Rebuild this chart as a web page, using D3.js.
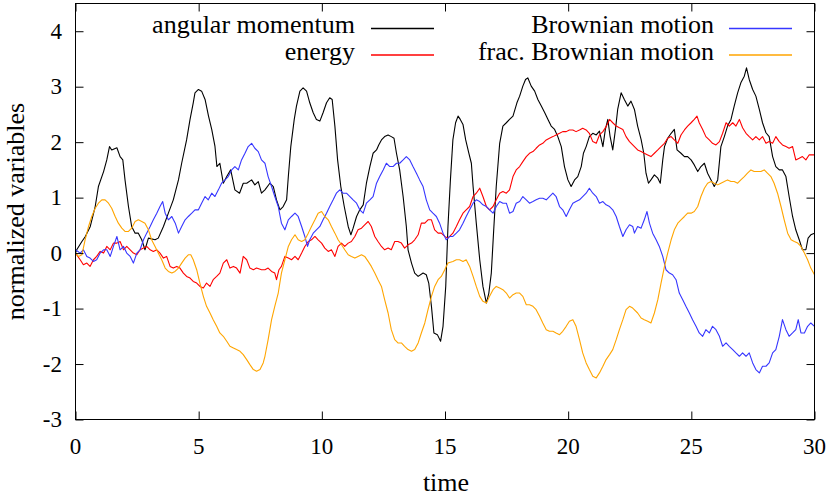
<!DOCTYPE html>
<html><head><meta charset="utf-8">
<script src="https://cdn.jsdelivr.net/npm/d3@7"></script>
<style>
html,body{margin:0;padding:0;background:#fff;}
text{font-family:Liberation Serif;}
</style></head>
<body><svg id="chart" width="830" height="497"></svg>
<script>
// ---- data ----
const xTicks = [0,5,10,15,20,25,30];
const yTicks = [-3,-2,-1,0,1,2,3,4];
const seriesNames = ["angular momentum","energy","Brownian motion","frac. Brownian motion"];
const seriesColors = ["#000000","#ff0000","#3636ff","#ffa500"];

const angularMomentum = [[0,0],[.05,.06],[.26,.21],[.4,.3],[.6,.48],[.8,.84],[.93,1.2],[1.14,1.47],[1.27,1.68],[1.38,1.92],[1.47,1.86],[1.68,1.9],[1.81,1.74],[1.92,1.68],[2.01,1.32],[2.15,.84],[2.28,.48],[2.42,.36],[2.55,.36],[2.69,.24],[2.82,.06],[2.96,.27],[3.23,.24],[3.36,.27],[3.57,.48],[3.77,.72],[3.97,.96],[4.18,1.32],[4.31,1.62],[4.51,2.04],[4.65,2.41],[4.78,2.71],[4.85,2.89],[4.99,2.95],[5.12,2.92],[5.26,2.77],[5.4,2.47],[5.53,2.23],[5.66,1.93],[5.74,1.56],[5.86,1.62],[6,1.26],[6.14,1.38],[6.3,1.5],[6.47,1.14],[6.66,1.08],[6.81,1.26],[6.95,1.26],[7.15,1.32],[7.28,1.23],[7.42,1.29],[7.55,1.08],[7.69,1.14],[7.89,1.26],[8.03,1.2],[8.16,.96],[8.3,.78],[8.43,.84],[8.57,.96],[8.64,1.38],[8.74,1.92],[8.88,2.41],[8.97,2.65],[9.11,2.92],[9.24,2.98],[9.38,2.92],[9.51,2.71],[9.65,2.53],[9.78,2.41],[9.92,2.38],[10.05,2.53],[10.19,2.71],[10.32,2.8],[10.42,2.77],[10.53,2.29],[10.64,1.68],[10.77,1.2],[10.91,.84],[11.07,.48],[11.18,.33],[11.27,.45],[11.41,.66],[11.54,.78],[11.68,.87],[11.81,1.26],[11.95,1.56],[12.08,1.8],[12.22,1.86],[12.31,1.95],[12.42,2.04],[12.55,2.1],[12.69,2.13],[12.82,2.1],[12.93,2.07],[13.03,1.8],[13.16,1.5],[13.3,1.02],[13.43,.48],[13.5,.06],[13.64,-.18],[13.77,-.36],[13.91,-.42],[14.11,-.36],[14.24,-.39],[14.34,-.54],[14.45,-.96],[14.55,-1.44],[14.69,-1.47],[14.82,-1.59],[14.92,-1.32],[15.03,-.6],[15.12,.48],[15.22,1.32],[15.32,2.04],[15.43,2.35],[15.53,2.47],[15.62,2.41],[15.73,2.32],[15.84,2.04],[15.97,1.8],[16.07,1.62],[16.14,1.2],[16.27,.54],[16.41,-.12],[16.54,-.6],[16.68,-.9],[16.78,-.72],[16.88,-.36],[16.97,.36],[17.08,1.2],[17.22,1.98],[17.35,2.29],[17.49,2.35],[17.62,2.41],[17.76,2.47],[17.92,2.71],[18.03,2.83],[18.16,3.01],[18.27,3.13],[18.36,3.16],[18.5,3.01],[18.64,2.92],[18.77,2.77],[18.91,2.65],[19.05,2.53],[19.18,2.41],[19.31,2.29],[19.45,2.23],[19.58,2.1],[19.72,1.92],[19.85,1.56],[19.99,1.32],[20.12,1.2],[20.26,1.32],[20.39,1.38],[20.53,1.56],[20.62,1.8],[20.73,1.92],[20.86,2.1],[21,2.16],[21.14,2.13],[21.27,2.2],[21.41,1.92],[21.51,2.23],[21.61,2.41],[21.7,2.11],[21.81,1.86],[21.92,2.23],[22.01,2.59],[22.15,2.89],[22.28,2.77],[22.42,2.65],[22.55,2.74],[22.69,2.59],[22.82,2.29],[22.96,2.05],[23.07,1.8],[23.16,1.44],[23.26,1.26],[23.36,1.32],[23.5,1.41],[23.64,1.35],[23.74,1.26],[23.84,1.68],[23.91,1.92],[24.04,2.07],[24.18,2.16],[24.31,2.23],[24.42,1.86],[24.58,1.8],[24.72,1.74],[24.85,1.74],[24.99,1.68],[25.12,1.59],[25.26,1.47],[25.39,1.56],[25.53,1.62],[25.66,1.44],[25.8,1.32],[25.93,1.2],[26.07,1.32],[26.2,1.92],[26.34,2.1],[26.47,2.29],[26.61,2.41],[26.74,2.65],[26.88,2.89],[27.01,3.07],[27.15,3.19],[27.24,3.34],[27.35,3.13],[27.49,2.95],[27.62,2.83],[27.76,2.59],[27.89,2.35],[28.03,2.17],[28.16,2.1],[28.3,1.74],[28.43,1.56],[28.57,1.5],[28.7,1.5],[28.84,1.38],[28.97,1.02],[29.11,.66],[29.24,.42],[29.38,.24],[29.51,.06],[29.65,.06],[29.74,.27],[29.85,.33],[30,.36]];

const energy = [[0,0],[.19,-.12],[.32,-.21],[.46,-.18],[.59,-.24],[.73,-.12],[.86,-.06],[1,.03],[1.14,0],[1.27,.12],[1.41,.06],[1.54,.18],[1.68,.18],[1.81,.21],[1.95,.06],[2.08,.12],[2.22,.06],[2.35,0],[2.49,-.03],[2.62,.06],[2.76,.09],[2.89,.12],[3.03,.06],[3.16,.03],[3.3,.06],[3.43,0],[3.57,-.09],[3.7,-.06],[3.84,-.24],[3.97,-.27],[4.11,-.24],[4.24,-.27],[4.38,-.36],[4.51,-.42],[4.65,-.45],[4.78,-.51],[4.92,-.54],[5.05,-.6],[5.19,-.63],[5.32,-.54],[5.46,-.6],[5.59,-.48],[5.73,-.42],[5.86,-.36],[6,-.18],[6.14,-.12],[6.27,-.27],[6.41,-.24],[6.54,-.27],[6.68,-.36],[6.81,-.06],[6.95,-.12],[7.08,-.27],[7.22,-.3],[7.35,-.27],[7.55,-.3],[7.69,-.3],[7.82,-.27],[7.96,-.33],[8.09,-.36],[8.16,-.48],[8.26,-.3],[8.36,-.24],[8.5,-.06],[8.64,-.09],[8.77,-.12],[8.91,-.06],[9.04,-.12],[9.18,0],[9.31,.12],[9.45,.21],[9.58,.24],[9.72,.3],[9.85,.24],[9.99,.18],[10.12,.09],[10.26,.03],[10.39,.06],[10.53,-.06],[10.66,.12],[10.8,.18],[10.93,.12],[11.07,.18],[11.2,.21],[11.34,.3],[11.47,.42],[11.61,.45],[11.74,.51],[11.88,.57],[12.01,.48],[12.15,.3],[12.28,.21],[12.42,.12],[12.55,.06],[12.69,.09],[12.82,.06],[12.96,.21],[13.09,.21],[13.23,.18],[13.36,.09],[13.5,.15],[13.64,.18],[13.77,.24],[13.91,.33],[14.04,.54],[14.18,.54],[14.31,.6],[14.45,.6],[14.58,.42],[14.72,.36],[14.85,.36],[14.99,.3],[15.12,.27],[15.19,.3],[15.32,.36],[15.46,.48],[15.59,.6],[15.73,.72],[15.86,.78],[16,.84],[16.14,1.02],[16.27,1.08],[16.41,1.17],[16.54,1.02],[16.68,.84],[16.81,.78],[16.95,.84],[17.08,.96],[17.22,1.08],[17.35,1.11],[17.49,1.08],[17.62,1.14],[17.76,1.38],[17.89,1.5],[18.03,1.56],[18.16,1.65],[18.3,1.74],[18.43,1.8],[18.57,1.83],[18.7,1.89],[18.84,1.95],[18.97,1.98],[19.11,2.04],[19.24,2.07],[19.38,2.1],[19.51,2.13],[19.65,2.16],[19.78,2.19],[19.92,2.19],[20.05,2.22],[20.19,2.22],[20.32,2.19],[20.46,2.22],[20.59,2.25],[20.73,2.22],[20.86,2.16],[21,2.01],[21.14,1.98],[21.27,2.13],[21.41,2.19],[21.54,2.28],[21.68,2.41],[21.81,2.35],[21.95,2.29],[22.08,2.26],[22.22,2.23],[22.35,2.1],[22.49,2.01],[22.62,1.95],[22.82,1.86],[22.96,1.83],[23.09,1.8],[23.23,1.77],[23.36,1.74],[23.5,1.8],[23.64,1.86],[23.77,1.92],[23.91,1.98],[24.04,2.07],[24.18,2.1],[24.31,2.04],[24.45,1.98],[24.58,2.13],[24.72,2.22],[24.85,2.29],[24.99,2.35],[25.12,2.41],[25.23,2.47],[25.32,2.35],[25.46,2.23],[25.59,2.1],[25.73,2.04],[25.86,1.98],[26,1.95],[26.14,2.01],[26.27,2.16],[26.41,2.35],[26.54,2.29],[26.68,2.35],[26.81,2.29],[26.95,2.41],[27.08,2.26],[27.22,2.16],[27.35,2.1],[27.49,2.04],[27.62,2.1],[27.76,2.04],[27.89,2.1],[28.03,1.98],[28.16,2.01],[28.3,1.98],[28.43,2.1],[28.57,2.01],[28.7,1.95],[28.84,1.92],[28.97,1.89],[29.11,1.92],[29.24,1.68],[29.38,1.71],[29.51,1.74],[29.65,1.68],[29.78,1.77],[30,1.77]];

const brownian = [[0,.06],[.19,0],[.32,.06],[.46,-.06],[.59,-.09],[.73,-.15],[.86,-.12],[1,0],[1.14,.06],[1.27,.06],[1.41,-.06],[1.54,.12],[1.68,.3],[1.81,.06],[1.95,.12],[2.08,0],[2.22,-.06],[2.35,-.18],[2.49,0],[2.62,.06],[2.76,.24],[2.89,.36],[3.03,.48],[3.16,.6],[3.3,.72],[3.43,.84],[3.54,.93],[3.64,.72],[3.77,.6],[3.91,.66],[4.05,.54],[4.18,.36],[4.31,.48],[4.45,.6],[4.58,.66],[4.72,.72],[4.85,.78],[4.99,.78],[5.12,.9],[5.26,1.02],[5.39,.96],[5.53,1.08],[5.66,1.02],[5.8,1.14],[5.93,1.26],[6.07,1.32],[6.2,1.38],[6.34,1.5],[6.47,1.56],[6.61,1.5],[6.74,1.68],[6.88,1.8],[7.01,1.92],[7.15,1.98],[7.28,1.89],[7.42,1.83],[7.55,1.68],[7.69,1.62],[7.82,1.38],[7.96,1.2],[8.09,1.02],[8.23,.84],[8.36,.54],[8.5,.42],[8.64,.6],[8.77,.66],[8.91,.72],[9.04,.66],[9.18,.48],[9.31,.3],[9.42,.12],[9.51,.24],[9.65,.36],[9.78,.42],[9.92,.48],[10.05,.6],[10.19,.72],[10.32,.84],[10.46,.96],[10.59,1.08],[10.73,1.14],[10.86,1.08],[11,1.08],[11.14,1.02],[11.27,.96],[11.41,.9],[11.54,.78],[11.68,.72],[11.81,.9],[11.95,.96],[12.08,1.02],[12.22,1.26],[12.35,1.38],[12.49,1.5],[12.62,1.62],[12.76,1.56],[12.89,1.56],[13.03,1.62],[13.16,1.62],[13.3,1.68],[13.43,1.74],[13.57,1.68],[13.7,1.56],[13.84,1.44],[13.97,1.32],[14.11,1.2],[14.24,.96],[14.38,.78],[14.51,.72],[14.65,.66],[14.78,.54],[14.92,.36],[15.05,.24],[15.19,.3],[15.32,.3],[15.46,.36],[15.59,.42],[15.73,.54],[15.86,.66],[16,.78],[16.14,.9],[16.27,.96],[16.41,.93],[16.54,.87],[16.68,.84],[16.81,.78],[16.95,.72],[17.08,.84],[17.22,.93],[17.35,.9],[17.49,.9],[17.62,.72],[17.76,.75],[17.89,.9],[18.03,.93],[18.16,1.02],[18.3,.96],[18.43,.9],[18.57,.93],[18.7,.96],[18.84,.99],[18.97,.99],[19.11,.96],[19.24,1.02],[19.38,1.08],[19.51,1.02],[19.65,.84],[19.78,.78],[19.92,.66],[20.05,.78],[20.19,.9],[20.32,.93],[20.46,.96],[20.59,1.02],[20.73,1.08],[20.86,1.17],[21,1.08],[21.14,1.02],[21.27,.9],[21.41,.93],[21.54,.87],[21.68,.84],[21.81,.78],[21.95,.66],[22.08,.48],[22.22,.3],[22.35,.42],[22.49,.51],[22.62,.48],[22.69,.36],[22.82,.48],[22.96,.45],[23.09,.6],[23.2,.75],[23.3,.54],[23.43,.36],[23.57,.24],[23.7,.12],[23.84,-.06],[23.97,-.3],[24.11,-.36],[24.24,-.39],[24.38,-.48],[24.51,-.72],[24.65,-.84],[24.78,-.96],[24.92,-1.08],[25.05,-1.2],[25.19,-1.32],[25.32,-1.44],[25.46,-1.5],[25.59,-1.38],[25.73,-1.44],[25.86,-1.32],[26,-1.38],[26.14,-1.5],[26.27,-1.68],[26.41,-1.62],[26.54,-1.68],[26.68,-1.74],[26.81,-1.8],[26.95,-1.86],[27.08,-1.8],[27.22,-1.86],[27.35,-1.8],[27.49,-1.98],[27.62,-2.1],[27.76,-2.16],[27.89,-2.04],[28.03,-2.04],[28.16,-1.98],[28.3,-1.8],[28.43,-1.74],[28.57,-1.5],[28.7,-1.2],[28.84,-1.38],[28.97,-1.5],[29.11,-1.44],[29.24,-1.38],[29.34,-1.2],[29.45,-1.44],[29.59,-1.44],[29.72,-1.32],[29.85,-1.26],[30,-1.32]];

const fracBrownian = [[0,0],[.12,-.06],[.26,-.03],[.39,.24],[.53,.48],[.66,.66],[.8,.81],[.93,.9],[1.07,.96],[1.2,.96],[1.34,.9],[1.47,.81],[1.61,.66],[1.74,.54],[1.88,.45],[2.01,.39],[2.15,.39],[2.28,.45],[2.42,.57],[2.55,.6],[2.69,.57],[2.82,.54],[2.96,.42],[3.09,.24],[3.23,.12],[3.36,0],[3.5,-.12],[3.64,-.27],[3.77,-.33],[3.91,-.36],[4.04,-.33],[4.18,-.27],[4.31,-.18],[4.45,-.09],[4.58,-.03],[4.68,-.03],[4.78,-.12],[4.92,-.3],[5.05,-.54],[5.19,-.78],[5.32,-.96],[5.46,-1.08],[5.59,-1.2],[5.73,-1.32],[5.86,-1.44],[6,-1.5],[6.14,-1.59],[6.27,-1.68],[6.41,-1.71],[6.54,-1.74],[6.68,-1.77],[6.81,-1.83],[6.95,-1.92],[7.08,-2.01],[7.22,-2.1],[7.35,-2.13],[7.49,-2.1],[7.62,-1.98],[7.69,-1.86],[7.82,-1.56],[7.96,-1.2],[8.09,-.96],[8.23,-.72],[8.36,-.36],[8.5,-.12],[8.64,.12],[8.77,.24],[8.91,.33],[9.04,.24],[9.18,.21],[9.31,.24],[9.45,.36],[9.58,.48],[9.72,.6],[9.85,.72],[9.99,.75],[10.12,.66],[10.26,.6],[10.39,.48],[10.53,.36],[10.66,.24],[10.8,.15],[10.93,.06],[11.07,-.03],[11.2,-.06],[11.34,-.09],[11.47,-.06],[11.61,-.03],[11.74,-.06],[11.88,-.15],[12.01,-.24],[12.15,-.36],[12.28,-.48],[12.42,-.6],[12.55,-.84],[12.69,-1.08],[12.82,-1.38],[12.96,-1.56],[13.09,-1.62],[13.23,-1.62],[13.36,-1.68],[13.5,-1.74],[13.64,-1.77],[13.77,-1.74],[13.91,-1.62],[14.04,-1.44],[14.18,-1.26],[14.31,-1.02],[14.45,-.78],[14.58,-.6],[14.72,-.48],[14.85,-.42],[14.99,-.3],[15.12,-.18],[15.32,-.15],[15.46,-.12],[15.59,-.12],[15.73,-.15],[15.86,-.12],[16,-.24],[16.14,-.42],[16.27,-.6],[16.41,-.78],[16.54,-.87],[16.68,-.9],[16.81,-.78],[16.95,-.66],[17.08,-.6],[17.22,-.63],[17.35,-.66],[17.49,-.72],[17.62,-.81],[17.76,-.75],[17.89,-.72],[18.03,-.72],[18.16,-.78],[18.3,-.93],[18.43,-.93],[18.57,-.96],[18.7,-1.02],[18.84,-1.14],[18.97,-1.26],[19.11,-1.38],[19.24,-1.41],[19.38,-1.41],[19.51,-1.44],[19.65,-1.47],[19.78,-1.41],[19.92,-1.32],[20.05,-1.23],[20.19,-1.2],[20.32,-1.32],[20.46,-1.56],[20.59,-1.8],[20.73,-1.98],[20.86,-2.1],[21,-2.22],[21.14,-2.25],[21.27,-2.16],[21.41,-2.04],[21.54,-1.92],[21.68,-1.83],[21.81,-1.74],[21.95,-1.56],[22.08,-1.38],[22.22,-1.2],[22.35,-1.02],[22.49,-.96],[22.62,-.99],[22.82,-1.08],[22.96,-1.17],[23.09,-1.2],[23.23,-1.23],[23.36,-1.26],[23.5,-1.08],[23.64,-.84],[23.77,-.54],[23.91,-.24],[24.04,0],[24.18,.24],[24.31,.42],[24.45,.54],[24.58,.6],[24.72,.66],[24.85,.72],[24.99,.72],[25.12,.75],[25.26,.84],[25.39,1.02],[25.53,1.17],[25.66,1.26],[25.8,1.29],[25.93,1.26],[26.07,1.23],[26.2,1.26],[26.34,1.29],[26.47,1.32],[26.61,1.29],[26.74,1.29],[26.88,1.26],[27.01,1.32],[27.15,1.38],[27.28,1.44],[27.42,1.5],[27.55,1.47],[27.69,1.47],[27.82,1.47],[27.96,1.5],[28.09,1.44],[28.23,1.38],[28.36,1.26],[28.5,1.08],[28.64,.84],[28.77,.6],[28.91,.36],[29.05,.24],[29.18,.21],[29.32,.18],[29.45,.12],[29.59,0],[29.72,-.12],[29.85,-.27],[30,-.39]];

// ---- layout ----
const FONT = "Liberation Serif";
const svg = d3.select("#chart");
const L = 75.5, R = 814.5, T = 3.5, B = 419.5;
const x = d3.scaleLinear().domain([0,30]).range([L,R]);
const y = d3.scaleLinear().domain([-3,4.5]).range([B,T]);

// texts first
function addText(px,py,str,size,anchor,transform){
  const t = svg.append("text").style("font-family",FONT).attr("font-size",size).attr("fill","#000");
  if(transform) t.attr("transform",transform); else t.attr("x",px).attr("y",py);
  if(anchor) t.attr("text-anchor",anchor);
  t.text(str);
  return t;
}
xTicks.forEach(v=>addText(x(v),454,String(v),23,"middle"));
yTicks.forEach(v=>addText(62,y(v)+7.5,String(v),23,"end"));
addText(446,491,"time",26,"middle");
addText(0,0,"normalized variables",26,"middle",`translate(24,${(T+B)/2}) rotate(-90)`);

const legend = [
  {name:seriesNames[0], color:seriesColors[0], tx:355, lx0:371, lx1:434, ly:28.5},
  {name:seriesNames[1], color:seriesColors[1], tx:355, lx0:371, lx1:434, ly:55},
  {name:seriesNames[2], color:seriesColors[2], tx:714, lx0:729, lx1:792, ly:28.5},
  {name:seriesNames[3], color:seriesColors[3], tx:714, lx0:729, lx1:792, ly:55}
];
legend.forEach(d=>{
  addText(d.tx,d.ly+4.5,d.name,26,"end");
  svg.append("line").attr("x1",d.lx0).attr("x2",d.lx1).attr("y1",d.ly).attr("y2",d.ly)
    .attr("stroke",d.color).attr("stroke-width",1.3);
});

// data lines
const line = d3.line().x(d=>x(d[0])).y(d=>y(d[1]));
[angularMomentum, energy, brownian, fracBrownian].forEach((s,i)=>{
  svg.append("path").attr("d",line(s)).attr("fill","none")
    .attr("stroke",seriesColors[i]).attr("stroke-width",1.1).attr("stroke-linejoin","round");
});

// axis ticks (inward, mirrored) via d3 axes without labels
const tk = 8;
const mk = (g)=>{ g.selectAll(".domain").remove(); g.selectAll(".tick text").remove();
  g.selectAll(".tick line").attr("stroke","#000").attr("stroke-width",1); };
svg.append("g").attr("transform",`translate(0,${B})`).call(d3.axisBottom(x).tickValues(xTicks).tickSize(-tk)).call(mk);
svg.append("g").attr("transform",`translate(0,${T})`).call(d3.axisTop(x).tickValues(xTicks).tickSize(-tk)).call(mk);
svg.append("g").attr("transform",`translate(${L},0)`).call(d3.axisLeft(y).tickValues(yTicks).tickSize(-tk)).call(mk);
svg.append("g").attr("transform",`translate(${R},0)`).call(d3.axisRight(y).tickValues(yTicks).tickSize(-tk)).call(mk);
svg.append("rect").attr("x",L).attr("y",T).attr("width",R-L).attr("height",B-T)
  .attr("fill","none").attr("stroke","#000").attr("stroke-width",1);
</script></body></html>
